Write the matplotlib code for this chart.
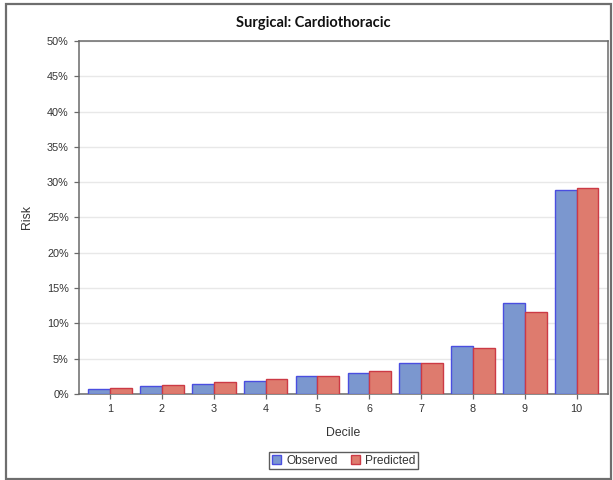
import matplotlib
matplotlib.use("Agg")
import matplotlib.pyplot as plt
from matplotlib.patches import Rectangle
from matplotlib.ticker import FuncFormatter

deciles = [1, 2, 3, 4, 5, 6, 7, 8, 9, 10]
observed = [0.7, 1.1, 1.4, 1.85, 2.5, 3.0, 4.35, 6.75, 12.8, 28.9]
predicted = [0.85, 1.3, 1.65, 2.05, 2.5, 3.2, 4.35, 6.45, 11.55, 29.1]
yticks = [0, 5, 10, 15, 20, 25, 30, 35, 40, 45, 50]

plt.rcParams['font.family'] = ['Liberation Sans', 'DejaVu Sans']

W, H = 613, 480
fig = plt.figure(figsize=(W/100, H/100), dpi=100)
fig.patch.set_facecolor("white")

# aeusserer Rahmen
fig.add_artist(Rectangle((6/W, 1-479/H), 605/W, 475/H, transform=fig.transFigure,
                         fill=False, edgecolor="#6e6e6e", linewidth=1.6))

ax = fig.add_axes([78.5/W, 1-393.8/H, (607.7-78.5)/W, (393.8-41)/H])
w = 0.42
xo = [d - w/2 for d in deciles]
xp = [d + w/2 for d in deciles]
ax.bar(xo, observed, width=w, color="#7b97cf", edgecolor="#4a4ee0", linewidth=1, label="Observed", zorder=3)
ax.bar(xp, predicted, width=w, color="#de7b6e", edgecolor="#cc3a45", linewidth=1, label="Predicted", zorder=3)

ax.set_xlim(0.39, 10.6)
ax.set_ylim(0, 50)
ax.set_xticks(deciles)
ax.set_yticks(yticks)
ax.yaxis.set_major_formatter(FuncFormatter(lambda v, p: "%d%%" % v))
ax.grid(axis="y", color="#e8e8e8", linewidth=1, zorder=0)
for s in ax.spines.values():
    s.set_color("#6a6a6a")
    s.set_linewidth(1.1)
ax.tick_params(axis="both", direction="out", length=3.5, width=0.9, color="#6a6a6a",
               labelsize=7.8, labelcolor="#333333", pad=3.5)
ax.set_xlabel("Decile", fontsize=8.8, color="#333333", labelpad=10)
ax.set_ylabel("Risk", fontsize=8.8, color="#333333", labelpad=10)

fig.text(313/W, 1-23/H, "Surgical: Cardiothoracic", ha="center", va="center",
         fontsize=10.5, fontweight="bold", family=["Lato", "DejaVu Sans"], color="#111111")

leg = fig.legend(loc="center", bbox_to_anchor=(343.5/W, 1-460.5/H), ncol=2, fontsize=8.6,
                 frameon=True, fancybox=False, edgecolor="#333333", borderpad=0.25,
                 handlelength=0.75, handleheight=0.75, handletextpad=0.45, columnspacing=1.1)
leg.get_frame().set_linewidth(1.0)
for t in leg.get_texts():
    t.set_color("#333333")

fig.savefig("out.png", dpi=100)
